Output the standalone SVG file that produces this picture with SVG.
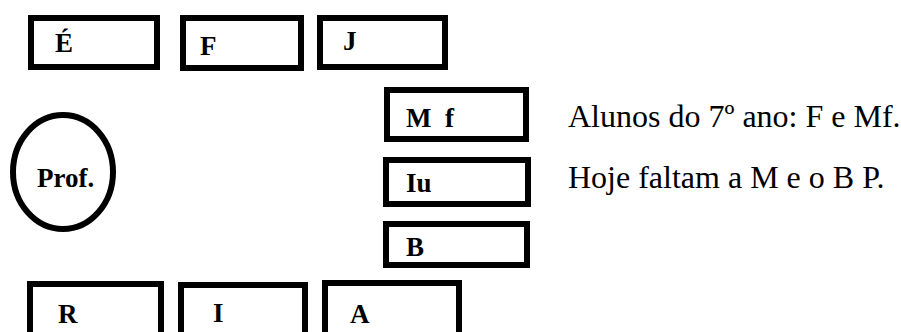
<svg xmlns="http://www.w3.org/2000/svg" width="901" height="332" viewBox="0 0 901 332">
<style>
.box{fill:#fff;stroke:#000;stroke-width:6}
.lbl{font-family:"Liberation Serif","Times New Roman",serif;font-weight:bold;font-size:27px;fill:#000}
.note{font-family:"Liberation Serif","Times New Roman",serif;font-size:32px;fill:#000}
</style>
<rect width="901" height="332" fill="#fff"/>
<g id="connectors"></g>
<g id="node-E"><rect class="box" x="31" y="18" width="126" height="49"/><text class="lbl" x="55" y="52">É</text></g>
<g id="node-F"><rect class="box" x="183" y="18" width="118" height="50"/><text class="lbl" x="200" y="55">F</text></g>
<g id="node-J"><rect class="box" x="320" y="18" width="125" height="49"/><text class="lbl" x="343" y="50">J</text></g>
<g id="node-Mf"><rect class="box" x="387" y="90" width="139" height="49"/><text class="lbl" x="406" y="127" xml:space="preserve">M  f</text></g>
<g id="node-Iu"><rect class="box" x="386" y="160" width="142" height="44"/><text class="lbl" x="406" y="192">Iu</text></g>
<g id="node-B"><rect class="box" x="386" y="224" width="141" height="41"/><text class="lbl" x="406" y="256">B</text></g>
<g id="node-Prof"><ellipse class="box" cx="63" cy="172" rx="50" ry="57" stroke-width="5"/><text class="lbl" x="37" y="187">Prof.</text></g>
<g id="node-R"><rect class="box" x="30" y="284" width="131" height="60"/><text class="lbl" x="58" y="323">R</text></g>
<g id="node-I"><rect class="box" x="181" y="285" width="124" height="60"/><text class="lbl" x="213" y="322">I</text></g>
<g id="node-A"><rect class="box" x="325" y="283" width="134" height="60"/><text class="lbl" x="350" y="323">A</text></g>
<g id="notes">
<text class="note" x="568" y="127">Alunos do 7º ano: F e Mf.</text>
<text class="note" x="568" y="188">Hoje faltam a M e o B P.</text>
</g>
</svg>
